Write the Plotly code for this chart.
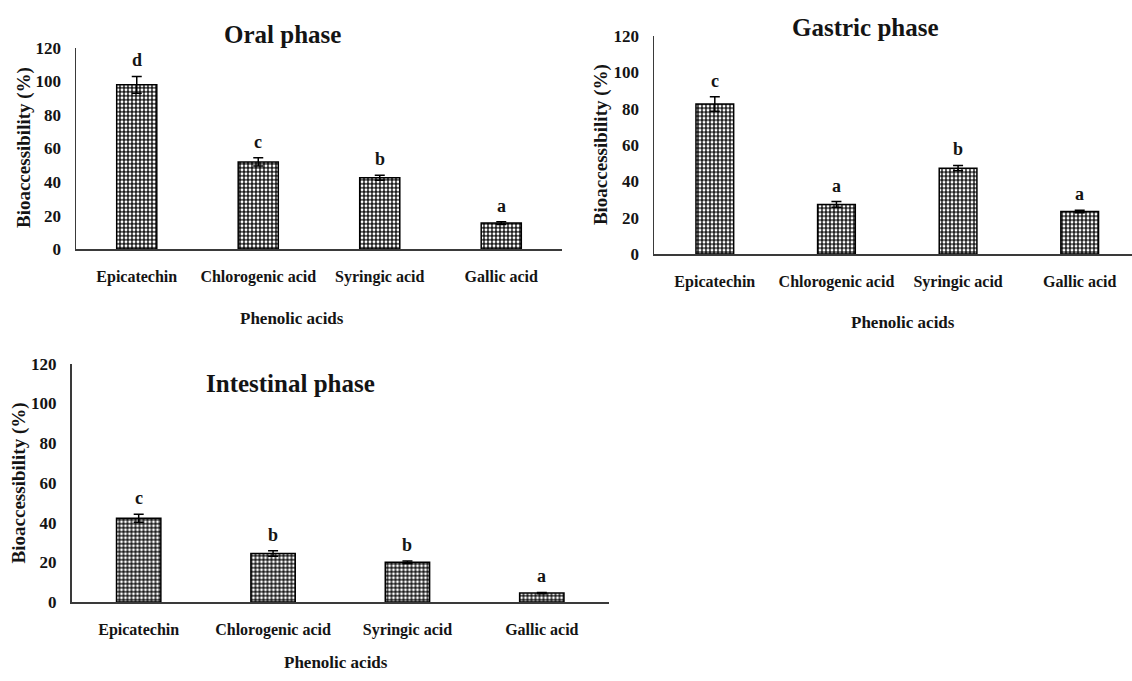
import plotly.graph_objects as go

categories = ["Epicatechin", "Chlorogenic acid", "Syringic acid", "Gallic acid"]

oral_values = [98.0, 52.0, 42.5, 15.5]
oral_errors = [5.0, 2.5, 1.5, 0.8]
oral_letters = ["d", "c", "b", "a"]

gastric_values = [82.6, 27.3, 47.3, 23.4]
gastric_errors = [4.0, 1.6, 1.5, 0.7]
gastric_letters = ["c", "a", "b", "a"]

intestinal_values = [42.2, 24.4, 20.0, 4.5]
intestinal_errors = [2.0, 1.4, 0.6, 0.3]
intestinal_letters = ["c", "b", "b", "a"]

y_ticks = [0, 20, 40, 60, 80, 100, 120]

W, H = 1132, 681
FONT = "Liberation Serif"
INK = "#141414"

def px_x(v):
    return v / W

def px_y(v):
    return 1 - v / H

panels = [
    ("Oral phase", oral_values, oral_errors, oral_letters, "", (76, 562), (40, 247), [-0.5, 3.5], 0.33),
    ("Gastric phase", gastric_values, gastric_errors, gastric_letters, "2", (654, 1132), (28, 252), [-0.5, 3.43], 0.31),
    ("Intestinal phase", intestinal_values, intestinal_errors, intestinal_letters, "3", (71.5, 609), (365, 610), [-0.5, 3.5], 0.33),
]

fig = go.Figure()
layout = {}
annotations = []

for name, vals, errs, letters, sfx, xd, yd, xr, bw in panels:
    fig.add_trace(go.Bar(
        x=categories, y=vals,
        width=bw,
        xaxis="x" + sfx, yaxis="y" + sfx,
        marker=dict(
            color="black",
            line=dict(color="black", width=1.5),
            pattern=dict(shape=".", fgcolor="white", bgcolor="#1c1c1c",
                         size=4, solidity=0.42, fillmode="replace"),
        ),
        error_y=dict(type="data", array=errs, visible=True,
                     color="black", thickness=1.5, width=5),
        showlegend=False,
        hoverinfo="skip",
    ))
    layout["xaxis" + sfx] = dict(
        domain=[px_x(xd[0]), min(1.0, px_x(xd[1]))],
        anchor="y" + sfx,
        type="category",
        range=xr,
        showline=True, linecolor="#3a3a3a", linewidth=2,
        showgrid=False, zeroline=False, ticks="",
        ticklabelstandoff=12,
        tickfont=dict(family=FONT, size=16, color=INK, weight="bold"),
    )
    layout["yaxis" + sfx] = dict(
        domain=[px_y(yd[1]), px_y(yd[0])],
        anchor="x" + sfx,
        range=[0, 120],
        tickvals=y_ticks,
        showline=True, linecolor="#3a3a3a", linewidth=1.5,
        showgrid=False, zeroline=False, ticks="",
        ticklabelstandoff=10,
        tickfont=dict(family=FONT, size=17, color=INK, weight="bold"),
    )
    for c, v, e, l in zip(categories, vals, errs, letters):
        annotations.append(dict(
            x=c, y=v + e, xref="x" + sfx, yref="y" + sfx,
            text=l, showarrow=False, yanchor="bottom", yshift=4,
            font=dict(family=FONT, size=18, color=INK, weight="bold"),
        ))

def paper_text(text, x, y, size, angle=0):
    annotations.append(dict(
        x=px_x(x), y=px_y(y), xref="paper", yref="paper",
        text=text, showarrow=False, xanchor="center", yanchor="middle",
        textangle=angle,
        font=dict(family=FONT, size=size, color=INK, weight="bold"),
    ))

paper_text("Oral phase", 282, 26, 25)
paper_text("Gastric phase", 865, 19, 25)
paper_text("Intestinal phase", 290, 385, 25)

paper_text("Phenolic acids", 292, 318, 17)
paper_text("Phenolic acids", 903, 322, 17)
paper_text("Phenolic acids", 336, 672, 17)

paper_text("Bioaccessibility (%)", 24, 143, 19, -90)
paper_text("Bioaccessibility (%)", 601, 140, 19, -90)
paper_text("Bioaccessibility (%)", 19, 488, 19, -90)

fig.update_layout(
    width=W, height=H,
    margin=dict(l=0, r=0, t=0, b=0),
    paper_bgcolor="white", plot_bgcolor="white",
    annotations=annotations,
    hovermode=False,
    **layout,
)

post = (
    "var h=document.documentElement, b=document.body;"
    "h.style.margin='0';h.style.padding='0';h.style.overflow='hidden';"
    "b.style.margin='0';b.style.padding='0';b.style.overflow='hidden';"
)

fig.write_html(
    "out.html",
    config={"displayModeBar": False, "staticPlot": True},
    post_script=post,
)
